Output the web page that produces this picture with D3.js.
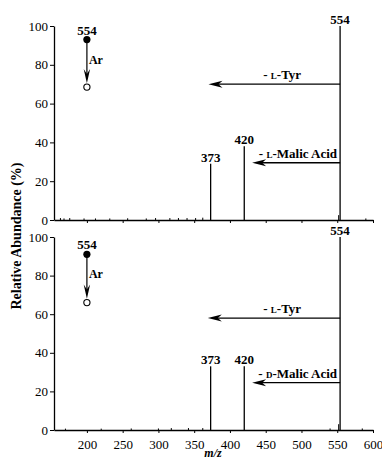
<!DOCTYPE html>
<html>
<head>
<meta charset="utf-8">
<script src="https://cdn.jsdelivr.net/npm/d3@7"></script>
<style>
  body { margin: 0; background: #fff; }
  svg text { font-family: "Liberation Serif", "Times New Roman", serif !important; fill: #000; }
</style>
</head>
<body>
<svg id="drawing_region"></svg>
<script>
// peaks (m/z, relative abundance %)
const peaks_top = [ {mz:373, y:29}, {mz:420, y:38}, {mz:554, y:100} ];
const peaks_bottom = [ {mz:373, y:33}, {mz:420, y:33}, {mz:554, y:100} ];
// small baseline noise
const noise_top = [ {mz:163, y:1}, {mz:168, y:0.8}, {mz:176, y:1}, {mz:196, y:0.8}, {mz:212, y:0.8},
    {mz:232, y:0.8}, {mz:257, y:0.9}, {mz:283, y:0.8}, {mz:296, y:1}, {mz:316, y:1},
    {mz:328, y:1}, {mz:340, y:1}, {mz:352, y:1}, {mz:362, y:1.2}, {mz:552, y:2.5}, {mz:590, y:0.8} ];
const noise_bottom = [ {mz:170, y:0.7}, {mz:220, y:0.7}, {mz:262, y:0.8}, {mz:300, y:0.8}, {mz:318, y:1},
    {mz:342, y:1}, {mz:362, y:1}, {mz:540, y:0.8}, {mz:552, y:3}, {mz:585, y:0.8} ];
// precursor / CID annotation (filled -> open circle)
const precursor_top = {mz:200, from:93, to:68.5};
const precursor_bottom = {mz:200, from:91, to:66};
// neutral-loss arrows
const losses_top = [ {from:554, to:370, y:70, pre:'- ', sc:'L', post:'-Tyr', mid:473},
                     {from:554, to:431, y:29.5, pre:'- ', sc:'L', post:'-Malic Acid'} ];
const losses_bottom = [ {from:554, to:369, y:58, pre:'- ', sc:'L', post:'-Tyr', mid:473},
                        {from:554, to:431, y:24.5, pre:'- ', sc:'D', post:'-Malic Acid'} ];
const xticks = [200, 250, 300, 350, 400, 450, 500, 550, 600];
const yticks = [0, 20, 40, 60, 80, 100];

const width = 382, height = 460;
const svg = d3.select('#drawing_region').attr('width', width).attr('height', height);

const xscale = d3.scaleLinear().domain([154, 600]).range([54, 373]);

function panel(top, bottom, peaks, noise, precursor, losses, showXLabels) {
    const yscale = d3.scaleLinear().domain([0, 100]).range([bottom, top]);
    const g = svg.append('g');

    // x axis
    const xaxis = d3.axisBottom(xscale).tickValues(xticks).tickSize(3).tickSizeOuter(0)
        .tickFormat(showXLabels ? d3.format('d') : '');
    const xg = g.append('g').attr('transform', `translate(0,${bottom})`).call(xaxis)
        .attr('font-family', null).attr('font-size', null);
    xg.select('.domain').attr('stroke-width', 1.3);
    xg.selectAll('text').style('font-size', '13px').attr('dy', '1.0em');

    // y axis
    const yaxis = d3.axisLeft(yscale).tickValues(yticks).tickSize(4).tickSizeOuter(0).tickPadding(2);
    const yg = g.append('g').attr('transform', `translate(${xscale.range()[0]},0)`).call(yaxis)
        .attr('font-family', null).attr('font-size', null);
    yg.select('.domain').attr('stroke-width', 1.3);
    yg.selectAll('text').style('font-size', '13px');
    g.selectAll('.tick line').attr('stroke-width', 1);

    // noise
    g.selectAll('.noise').data(noise).join('line')
        .attr('x1', d => xscale(d.mz)).attr('x2', d => xscale(d.mz))
        .attr('y1', yscale(0)).attr('y2', d => yscale(d.y))
        .attr('stroke', '#000').attr('stroke-width', 1);

    // peaks
    g.selectAll('.peak').data(peaks).join('line')
        .attr('x1', d => xscale(d.mz)).attr('x2', d => xscale(d.mz))
        .attr('y1', yscale(0)).attr('y2', d => yscale(d.y))
        .attr('stroke', '#000').attr('stroke-width', 1.3);
    g.selectAll('.plabel').data(peaks).join('text')
        .attr('x', d => xscale(d.mz)).attr('y', d => yscale(d.y) - 2)
        .attr('text-anchor', 'middle').style('font-size', '13px').style('font-weight', 'bold')
        .text(d => d.mz);

    // loss arrows
    losses.forEach(l => {
        const x0 = xscale(l.from), x1 = xscale(l.to), yy = yscale(l.y);
        g.append('line').attr('x1', x0).attr('x2', x1 + 8).attr('y1', yy).attr('y2', yy)
            .attr('stroke', '#000').attr('stroke-width', 1.3);
        g.append('path')
            .attr('d', `M${x1},${yy} L${x1 + 14},${yy - 3.5} L${x1 + 10},${yy} L${x1 + 14},${yy + 3.5} Z`)
            .attr('fill', '#000');
        const t = g.append('text')
            .attr('x', l.mid ? xscale(l.mid) : x0 - 3).attr('y', yy - 5)
            .attr('text-anchor', l.mid ? 'middle' : 'end')
            .style('font-size', '13px').style('font-weight', 'bold');
        t.append('tspan').text(l.pre);
        t.append('tspan').style('font-size', '9px').text(l.sc);
        t.append('tspan').text(l.post);
    });

    // precursor annotation
    const px = xscale(precursor.mz), pf = yscale(precursor.from), po = yscale(precursor.to);
    g.append('line').attr('x1', px).attr('x2', px).attr('y1', pf).attr('y2', po - 10)
        .attr('stroke', '#000').attr('stroke-width', 1.2);
    g.append('path')
        .attr('d', `M${px},${po - 3.8} L${px - 3.2},${po - 18} L${px},${po - 13} L${px + 3.2},${po - 18} Z`)
        .attr('fill', '#000');
    g.append('circle').attr('cx', px).attr('cy', pf).attr('r', 3.6).attr('fill', '#000');
    g.append('circle').attr('cx', px).attr('cy', po).attr('r', 3.1)
        .attr('fill', '#fff').attr('stroke', '#000').attr('stroke-width', 1.1);
    g.append('text').attr('x', px).attr('y', pf - 5).attr('text-anchor', 'middle')
        .style('font-size', '13px').style('font-weight', 'bold').text('554');
    g.append('text').attr('x', px + 2).attr('y', pf + 24)
        .style('font-size', '12px').style('font-weight', 'bold').text('Ar');
}

panel(26, 220, peaks_top, noise_top, precursor_top, losses_top, false);
panel(237, 430, peaks_bottom, noise_bottom, precursor_bottom, losses_bottom, true);

// axis titles
svg.append('text')
    .attr('transform', 'translate(21,236) rotate(-90)')
    .attr('text-anchor', 'middle').style('font-size', '14px').style('font-weight', 'bold')
    .text('Relative Abundance (%)');
svg.append('text').attr('x', 213).attr('y', 457).attr('text-anchor', 'middle')
    .style('font-size', '12px').style('font-style', 'italic').style('font-weight', 'bold')
    .text('m/z');
</script>
</body>
</html>
